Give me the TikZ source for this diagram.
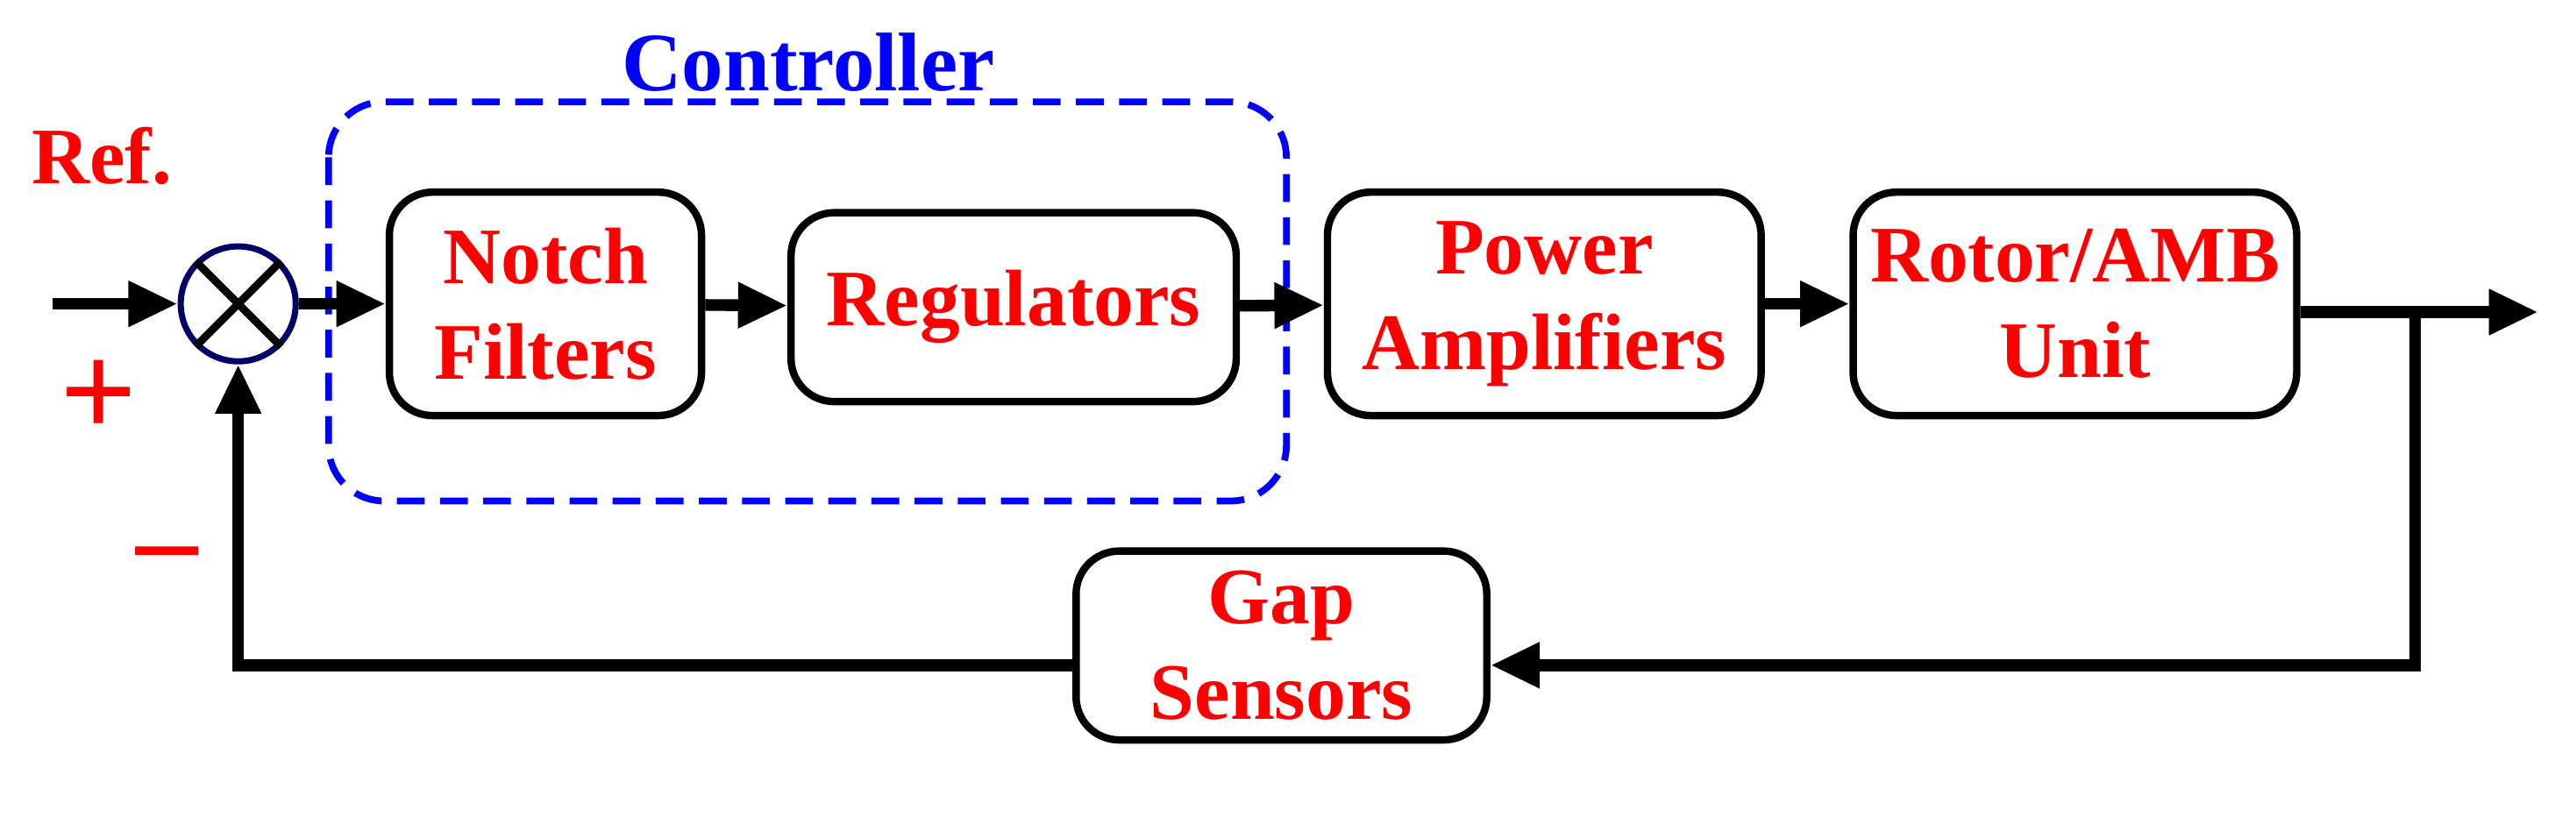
\documentclass[tikz,border=0pt]{standalone}
\usepackage{fontspec}
\setmainfont{Liberation Serif}
\usetikzlibrary{arrows.meta}
\begin{document}
\begin{tikzpicture}[x=0.01874cm,y=-0.01874cm,
  blk/.style={draw,line width=2.4pt,rounded corners=14pt,align=center,font=\fontsize{26}{31}\selectfont\bfseries,text=red,inner sep=0pt},
  sig/.style={line width=3.8pt,-{Triangle[length=16pt,width=14pt]}},
  lbl/.style={text=red,font=\fontsize{26}{31}\selectfont\bfseries}]
\useasboundingbox (0,0) rectangle (1568,497);
\draw[blue,dash pattern=on 9pt off 5pt,line width=2.2pt,rounded corners=18pt] (200,62) rectangle (783,305);
\node[text=blue,font=\fontsize{27}{31}\selectfont\bfseries] (ctl) at (492,38) {Controller};
\node[blk,minimum width=190*0.01874cm,minimum height=136*0.01874cm] (nf) at (332,185) {Notch\\Filters};
\node[blk,minimum width=271*0.01874cm,minimum height=115*0.01874cm] (reg) at (617,187) {Regulators};
\node[blk,minimum width=264*0.01874cm,minimum height=136*0.01874cm] (pa) at (940,185) {Power\\Amplifiers};
\node[blk,minimum width=270*0.01874cm,minimum height=136*0.01874cm] (ro) at (1263,185) {Rotor/AMB\\Unit};
\node[blk,minimum width=250*0.01874cm,minimum height=115*0.01874cm] (gs) at (780,393) {Gap\\Sensors};
\node[draw=black!60!blue,line width=2pt,circle,minimum size=70*0.01874cm,fill=white] (sum) at (145,185) {};
\draw[line width=2.5pt] (sum.45)--(sum.225) (sum.135)--(sum.315);
\node[lbl] (ref) at (62,95) {Ref.};
\node[lbl,font=\fontsize{44}{44}\selectfont\bfseries] (plus) at (60,243) {+};
\node[lbl,font=\fontsize{40}{40}\selectfont\bfseries] (minus) at (102,343) {--};
\coordinate (in) at (32,185);
\coordinate (out) at (1545,190);
\coordinate (br) at (1470,190);
\draw[sig] (in)--(sum);
\draw[sig] (sum)--(nf);
\draw[sig] (nf)--(reg);
\draw[sig] (reg)--(pa);
\draw[sig] (pa)--(ro);
\draw[sig] (ro.east|-out)--(out);
\draw[sig] (br)|-(gs.east|-0,405);
\draw[sig] (gs.west|-0,405)-|(sum.south);
\end{tikzpicture}
\end{document}
